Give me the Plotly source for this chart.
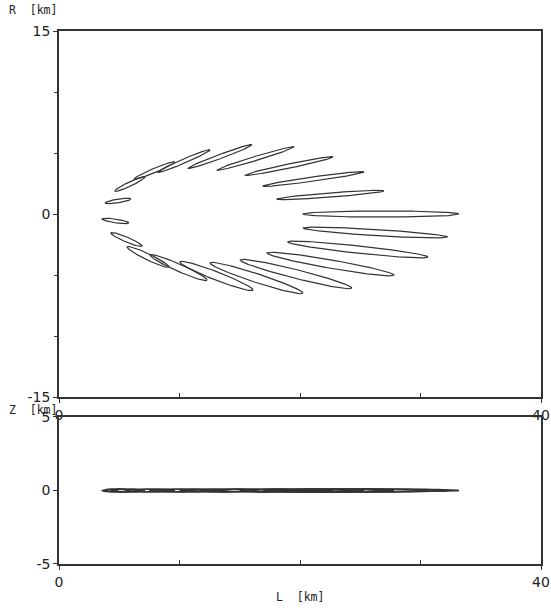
import numpy as np
import plotly.graph_objects as go

# Ellipse parameters (km, degrees)
center_l = [4.90, 5.89, 7.93, 10.37, 13.36, 16.31, 19.09, 21.12, 22.53, 26.72,
            26.27, 24.81, 22.53, 19.67, 16.39, 13.07, 9.92, 7.39, 5.60, 4.69]
center_r = [1.07, 2.46, 3.57, 4.34, 4.71, 4.55, 3.93, 2.87, 1.56, 0.00,
            -1.52, -2.91, -4.10, -4.92, -5.25, -5.08, -4.39, -3.52, -2.09, -0.57]
length_km = [2.15, 2.75, 3.65, 4.70, 5.65, 6.67, 7.45, 8.45, 8.90, 12.95,
             12.00, 11.70, 10.70, 9.55, 8.10, 6.50, 5.15, 3.85, 2.80, 2.25]
width_km = [0.30, 0.35, 0.35, 0.35, 0.35, 0.35, 0.35, 0.35, 0.35, 0.50,
            0.50, 0.60, 0.68, 0.72, 0.72, 0.68, 0.60, 0.50, 0.40, 0.30]
angle_deg = [9.0, 25.0, 22.5, 23.0, 20.0, 16.6, 11.6, 7.9, 4.3, 0.0,
             -3.5, -6.1, -9.8, -14.0, -17.9, -21.0, -23.7, -25.5, -22.7, -8.4]
height_z = [0.20, 0.20, 0.20, 0.20, 0.20, 0.20, 0.20, 0.20, 0.20, 0.20,
            0.20, 0.20, 0.20, 0.20, 0.20, 0.20, 0.20, 0.20, 0.20, 0.20]

x_ticks = [0, 40]
r_ticks = [15, 0, -15]
r_ticktext = ["15", "0", "-15"]
z_ticks = [5, 0, -5]
z_ticktext = ["5", "0", "-5"]

LINE = "#333333"
t = np.linspace(0, 2 * np.pi, 181)

fig = go.Figure()
for cl, cr, L, W, ang, hz in zip(center_l, center_r, length_km, width_km, angle_deg, height_z):
    a, b = L / 2, W / 2
    th = np.deg2rad(ang)
    xs = cl + a * np.cos(t) * np.cos(th) - b * np.sin(t) * np.sin(th)
    ys = cr + a * np.cos(t) * np.sin(th) + b * np.sin(t) * np.cos(th)
    fig.add_trace(go.Scatter(x=xs, y=ys, mode="lines", xaxis="x", yaxis="y",
                             line=dict(color=LINE, width=1.2), hoverinfo="skip",
                             showlegend=False))
    half_x = np.sqrt((a * np.cos(th)) ** 2 + (b * np.sin(th)) ** 2)
    xz = cl + half_x * np.cos(t)
    zz = (hz / 2) * np.sin(t)
    fig.add_trace(go.Scatter(x=xz, y=zz, mode="lines", xaxis="x2", yaxis="y2",
                             line=dict(color=LINE, width=1.4), hoverinfo="skip",
                             showlegend=False))

tickfont = dict(family="DejaVu Sans", size=14, color="#222")
axis_common = dict(showgrid=False, zeroline=False, showline=True, linecolor=LINE,
                   linewidth=1.5, mirror=True, tickfont=tickfont, tickcolor=LINE,
                   automargin=False)

label_font = dict(family="DejaVu Sans Mono", size=11.5, color="#222")

fig.update_layout(
    width=551, height=608,
    margin=dict(l=59, r=10, t=31, b=44, autoexpand=False),
    paper_bgcolor="white", plot_bgcolor="white",
    xaxis=dict(domain=[0, 1], range=[0, 40], anchor="y", tickvals=x_ticks,
               ticks="outside", ticklen=4,
               minor=dict(tickvals=[10, 20, 30], ticks="inside", ticklen=4, tickcolor=LINE),
               **axis_common),
    yaxis=dict(domain=[0.3133, 1.0], range=[-15, 15], anchor="x", tickvals=r_ticks,
               ticktext=r_ticktext, ticks="outside", ticklen=4,
               minor=dict(tickvals=[-10, -5, 5, 10], ticks="outside", ticklen=3, tickcolor=LINE),
               **axis_common),
    xaxis2=dict(domain=[0, 1], range=[0, 40], anchor="y2", tickvals=x_ticks,
                ticks="outside", ticklen=4,
                minor=dict(tickvals=[10, 20, 30], ticks="inside", ticklen=4, tickcolor=LINE),
                **axis_common),
    yaxis2=dict(domain=[0, 0.2758], range=[-5, 5], anchor="x2", tickvals=z_ticks,
                ticktext=z_ticktext, ticks="outside", ticklen=4, **axis_common),
    annotations=[
        dict(text="R  [km]", xref="paper", yref="paper", x=-0.108, y=1.039,
             xanchor="left", yanchor="middle", showarrow=False, font=label_font),
        dict(text="Z  [km]", xref="paper", yref="paper", x=-0.108, y=0.2880,
             xanchor="left", yanchor="middle", showarrow=False, font=label_font),
        dict(text="L  [km]", xref="paper", yref="paper", x=0.5, y=-0.0619,
             xanchor="center", yanchor="middle", showarrow=False, font=label_font),
    ],
)

fig.write_html(
    "out.html",
    config={"displayModeBar": False},
    post_script="document.body.style.margin='0';document.body.style.padding='0';",
)
